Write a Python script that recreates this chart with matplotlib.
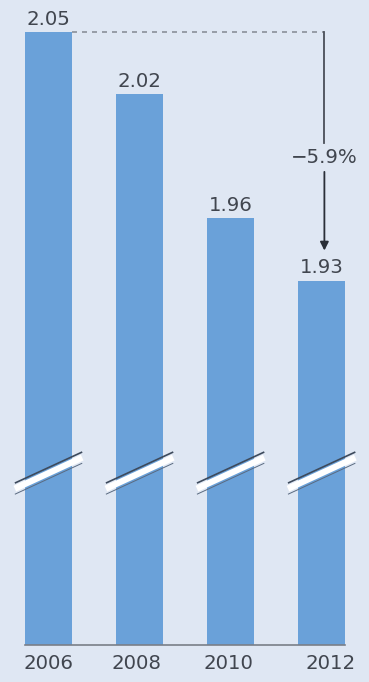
import matplotlib
matplotlib.use("Agg")
import matplotlib.pyplot as plt
import numpy as np

years = ["2006", "2008", "2010", "2012"]
values = [2.05, 2.02, 1.96, 1.93]
value_labels = ["2.05", "2.02", "1.96", "1.93"]
change_label = "\u22125.9%"

W, H = 369, 682
bg = "#dfe7f3"
bar_color = "#6aa1d9"
text_color = "#41464f"

fig = plt.figure(figsize=(W / 100, H / 100), dpi=100, facecolor=bg)
ax = fig.add_axes([0, 37 / H, 1, 645 / H])
ax.set_facecolor(bg)
ymin, ymax = 1.754, 2.0655
ax.set_ylim(ymin, ymax)
ax.set_xlim(-0.533, 3.52)

x = np.arange(len(years))
ax.bar(x, [v - ymin for v in values], bottom=ymin, width=0.51, color=bar_color, zorder=2)

for s in ax.spines.values():
    s.set_visible(False)
ax.set_yticks([])
ax.set_xticks([])
ax.plot([-0.255, 3.255], [ymin, ymin], color="#7a7f88", lw=1.2, zorder=3, clip_on=False)

font = "DejaVu Sans"
for xi, v, lab in zip(x, values, value_labels):
    ax.text(xi, v + 0.0015, lab, ha="center", va="bottom", fontsize=14.2,
            color=text_color, family=font, zorder=4)

year_offsets = [0, -0.03, -0.02, 0.1]
for xi, yl, off in zip(x, years, year_offsets):
    ax.text(xi + off, ymin - 0.0045, yl, ha="center", va="top", fontsize=14.2,
            color=text_color, family=font)

# break marks
brk_y = 1.837
dx = 0.37
dy = 0.0075
for xi in x:
    ax.plot([xi - dx, xi + dx], [brk_y - dy, brk_y + dy], color="white", lw=4.5,
            zorder=5, solid_capstyle="butt")
    ax.plot([xi - dx, xi + dx], [brk_y - dy + 0.0027, brk_y + dy + 0.0027],
            color="#3d4a5c", lw=1.2, zorder=6, solid_capstyle="butt")
    ax.plot([xi - dx, xi + dx], [brk_y - dy - 0.0027, brk_y + dy - 0.0027],
            color="#5a6a80", lw=0.7, zorder=6, solid_capstyle="butt")

# change annotation
xa = 3.03
ax.plot([0.255, xa], [values[0], values[0]], color="#8a909a", lw=1.2,
        ls=(0, (3, 3)), zorder=3)
ax.plot([xa, xa], [values[0], 1.9965], color="#4a4f58", lw=1.3, zorder=3)
ax.text(xa, 1.9895, change_label, ha="center", va="center", fontsize=14.2,
        color=text_color, family=font)
ax.annotate("", xy=(xa, 1.9445), xytext=(xa, 1.9825),
            arrowprops=dict(arrowstyle="-|>,head_length=0.5,head_width=0.25",
                            color="#2a2f38", lw=1.3, shrinkA=0, shrinkB=0))

fig.savefig("out.png", dpi=100, facecolor=bg)
